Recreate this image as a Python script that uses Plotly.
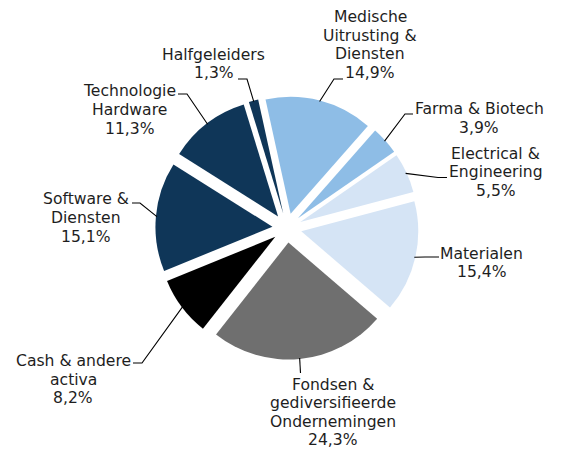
import math
import plotly.graph_objects as go

# ---- data ----
categories = [
    "Medische<br>Uitrusting &<br>Diensten",
    "Farma & Biotech",
    "Electrical &<br>Engineering",
    "Materialen",
    "Fondsen &<br>gediversifieerde<br>Ondernemingen",
    "Cash & andere<br>activa",
    "Software &<br>Diensten",
    "Technologie<br>Hardware",
    "Halfgeleiders",
]
values = [14.9, 3.9, 5.5, 15.4, 24.3, 8.2, 15.1, 11.3, 1.3]
colors = ["#8EBDE6", "#8EBDE6", "#D5E4F5", "#D5E4F5", "#6F6F6F",
          "#000000", "#0F3658", "#0F3658", "#0F3658"]

# ---- layout geometry (page pixels) ----
W, H = 565, 452
PAGE_OFFSET = 8            # default body margin of the html page
CX, CY = 287, 228          # pie centre
R_TOTAL = 131.6            # radius incl. pull
PULL = 0.125
ROTATION = -12.4
LINE_STEP = 18.6
FONT = dict(family="DejaVu Sans, Verdana, sans-serif", size=15.6, color="#1E1E1E")

# label placement: text-block centre, knee point, end point (page pixels)
label_layout = [
    dict(t=(370, 45), k=(334, 79), e=(343, 79)),
    dict(t=(479, 118.5), k=(405, 114), e=(413, 114)),
    dict(t=(495.5, 172.5), k=(438, 177.5), e=(447, 177.5)),
    dict(t=(481.5, 263), k=(425, 257), e=(439, 257)),
    dict(t=(333, 412.5), k=(300.5, 373), e=(300.5, 373)),
    dict(t=(73, 379.5), k=(142, 363), e=(133, 363)),
    dict(t=(86, 218), k=(140, 203), e=(132, 203)),
    dict(t=(129.5, 110), k=(187, 94), e=(178, 94)),
    dict(t=(213.5, 64), k=(247, 79), e=(238, 79)),
]


def px(x):
    return (x - PAGE_OFFSET) / W


def py(y):
    return 1 - (y - PAGE_OFFSET) / H


def fmt(v):
    return f"{v:.1f}".replace(".", ",") + "%"


fig = go.Figure(go.Pie(
    values=values,
    labels=[c.replace("<br>", " ") for c in categories],
    marker=dict(colors=colors, line=dict(width=0)),
    sort=False,
    direction="clockwise",
    rotation=ROTATION,
    pull=[PULL] * len(values),
    textinfo="none",
    hoverinfo="label+percent",
    showlegend=False,
    domain=dict(x=[px(CX - R_TOTAL), px(CX + R_TOTAL)],
                y=[py(CY + R_TOTAL), py(CY - R_TOTAL)]),
))

total = sum(values)
cum = 0.0
annotations = []
shapes = []
for cat, v, lay in zip(categories, values, label_layout):
    mid = ROTATION + (cum + v / 2) / total * 360.0
    cum += v
    a = math.radians(mid)
    sx = CX + (R_TOTAL - 1) * math.sin(a)
    sy = CY - (R_TOTAL - 1) * math.cos(a)
    kx, ky = lay["k"]
    ex, ey = lay["e"]
    shapes.append(dict(
        type="path", xref="paper", yref="paper",
        path=f"M {px(sx)},{py(sy)} L {px(kx)},{py(ky)} L {px(ex)},{py(ey)}",
        line=dict(color="#000000", width=1.1),
    ))
    tx, ty = lay["t"]
    lines = cat.split("<br>") + [fmt(v)]
    n = len(lines)
    for i, line in enumerate(lines):
        yy = ty + (i - (n - 1) / 2) * LINE_STEP
        annotations.append(dict(
            x=px(tx), y=py(yy), xref="paper", yref="paper",
            text=line, showarrow=False,
            xanchor="center", yanchor="middle", align="center",
            font=FONT,
        ))

fig.update_layout(
    width=W, height=H,
    margin=dict(l=0, r=0, t=0, b=0),
    paper_bgcolor="white", plot_bgcolor="white",
    annotations=annotations, shapes=shapes,
)

fig.write_html("out.html")
